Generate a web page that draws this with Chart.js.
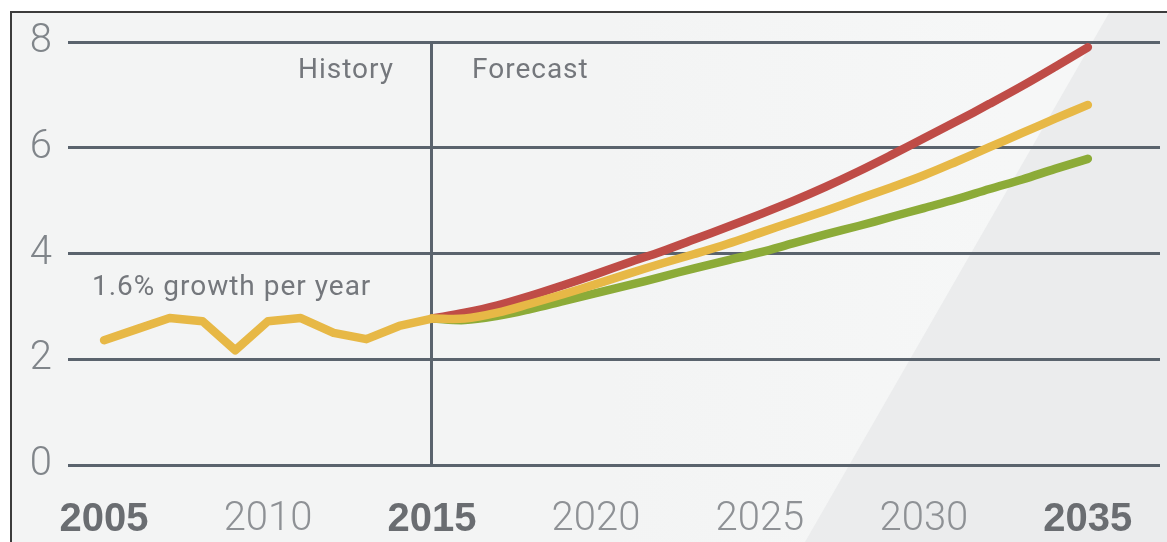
<!DOCTYPE html>
<html>
<head>
<meta charset="utf-8">
<script src="https://cdn.jsdelivr.net/npm/chart.js@4"></script>
<style>
  html, body { margin: 0; padding: 0; background: #fff; }
  .frame {
    position: absolute; left: 10px; top: 11px; right: 0; bottom: 0;
    border-top: 2px solid #3c3c3c; border-left: 2px solid #3c3c3c;
    background: #f3f4f4;
  }
  canvas { display: block; }
</style>
</head>
<body>
<div class="frame"><canvas id="myChart"></canvas></div>
<script>
// history (single series)
const histYears = [2005, 2006, 2007, 2008, 2009, 2010, 2011, 2012, 2013, 2014, 2015];
const histValues = [2.36, 2.57, 2.78, 2.72, 2.17, 2.72, 2.78, 2.50, 2.38, 2.63, 2.77];

// forecast scenarios
const fcYears = [2015, 2016, 2017, 2018, 2019, 2020, 2021, 2022, 2023, 2024, 2025,
                 2026, 2027, 2028, 2029, 2030, 2031, 2032, 2033, 2034, 2035];
const highValues = [2.77, 2.88, 3.02, 3.20, 3.40, 3.61, 3.83, 4.04, 4.27, 4.50, 4.74,
                    4.99, 5.26, 5.55, 5.86, 6.18, 6.50, 6.83, 7.17, 7.53, 7.90];
const midValues = [2.77, 2.77, 2.88, 3.05, 3.23, 3.42, 3.62, 3.81, 3.99, 4.18, 4.39,
                   4.60, 4.81, 5.03, 5.25, 5.48, 5.74, 6.01, 6.28, 6.55, 6.81];
const lowValues = [2.77, 2.74, 2.82, 2.95, 3.10, 3.25, 3.40, 3.56, 3.72, 3.87, 4.02,
                   4.19, 4.36, 4.52, 4.69, 4.86, 5.03, 5.22, 5.40, 5.60, 5.79];

const xTicks = [2005, 2010, 2015, 2020, 2025, 2030, 2035];
const boldYears = [2005, 2015, 2035];
const yTicks = [0, 2, 4, 6, 8];

const gridColor = '#5a636d';
const red = '#bf4c47';
const yellow = '#e7b846';
const green = '#8cab38';

function pts(xs, ys) {
  return xs.map((x, i) => ({x: x, y: ys[i]}));
}

function isBold(ctx) {
  return !!(ctx.tick && boldYears.includes(ctx.tick.value));
}

// lighter/darker diagonal backdrop + text labels
const decor = {
  id: 'decor',
  beforeDraw(chart) {
    const c = chart.ctx, w = chart.width, h = chart.height;
    c.save();
    const g = c.createLinearGradient(600, 0, 1000, 0);
    g.addColorStop(0, '#f3f4f4');
    g.addColorStop(1, '#f6f7f7');
    c.fillStyle = g;
    c.fillRect(0, 0, w, h);
    c.beginPath();
    c.moveTo(793, h);
    c.lineTo(1097, 0);
    c.lineTo(w, 0);
    c.lineTo(w, h);
    c.closePath();
    c.fillStyle = '#ebeced';
    c.fill();
    c.restore();
  },
  afterDatasetsDraw(chart) {
    const c = chart.ctx;
    const xs = chart.scales.x, ys = chart.scales.y;
    const x15 = xs.getPixelForValue(2015);
    c.save();
    c.fillStyle = '#74777c';
    c.font = '28px Roboto';
    c.letterSpacing = '1px';
    c.textBaseline = 'middle';
    c.textAlign = 'right';
    c.fillText('History', x15 - 38, ys.getPixelForValue(7.45));
    c.textAlign = 'left';
    c.fillText('Forecast', x15 + 40, ys.getPixelForValue(7.45));
    c.fillText('1.6% growth per year', xs.getPixelForValue(2004.63), ys.getPixelForValue(3.35));
    c.restore();
  }
};

new Chart('myChart', {
  type: 'line',
  data: {
    datasets: [
      {data: pts(fcYears, lowValues), borderColor: green, order: 3, tension: 0.35},
      {data: pts(fcYears, highValues), borderColor: red, order: 2, tension: 0.35},
      {data: pts(fcYears, midValues), borderColor: yellow, order: 1, tension: 0.35},
      {data: pts(histYears, histValues), borderColor: yellow, order: 0, tension: 0}
    ]
  },
  options: {
    responsive: true,
    maintainAspectRatio: false,
    animation: false,
    layout: {padding: {top: 29, right: 7, bottom: 0, left: 0}},
    elements: {
      point: {radius: 0},
      line: {borderWidth: 8.5, borderCapStyle: 'round', borderJoinStyle: 'round', fill: false}
    },
    plugins: {legend: {display: false}, tooltip: {enabled: false}},
    scales: {
      x: {
        type: 'linear',
        min: 2003.9,
        max: 2037.2,
        afterBuildTicks: s => { s.ticks = xTicks.map(v => ({value: v})); },
        afterFit: s => { s.height = 77; },
        border: {display: false},
        grid: {
          color: ctx => ctx.tick && ctx.tick.value === 2015 ? gridColor : 'transparent',
          lineWidth: 3,
          drawTicks: false
        },
        ticks: {
          padding: 31,
          maxRotation: 0,
          callback: v => String(v),
          color: ctx => isBold(ctx) ? '#6a6d71' : '#8e9195',
          font: ctx => isBold(ctx)
            ? {family: 'Liberation Sans', size: 40, weight: 'bold'}
            : {family: 'Roboto', size: 40, weight: 300}
        }
      },
      y: {
        min: 0,
        max: 8,
        afterBuildTicks: s => { s.ticks = yTicks.map(v => ({value: v})); },
        afterFit: s => { s.width = 56; s.paddingTop = 0; s.paddingBottom = 0; },
        border: {display: false},
        grid: {color: gridColor, lineWidth: 3, drawTicks: false},
        ticks: {
          padding: 16,
          color: '#80858a',
          font: {family: 'Roboto', size: 40, weight: 300}
        }
      }
    }
  },
  plugins: [decor]
});
</script>
</body>
</html>
